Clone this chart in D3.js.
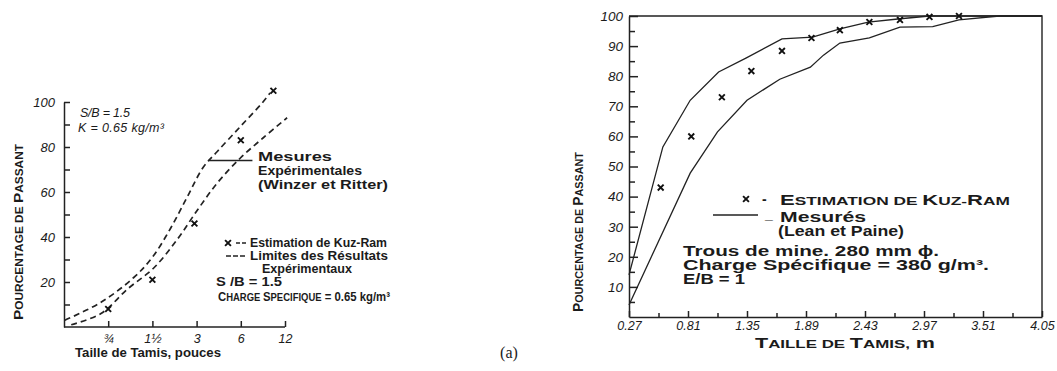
<!DOCTYPE html>
<html><head><meta charset="utf-8">
<script src="https://cdn.jsdelivr.net/npm/d3@7"></script>
<style>
html,body{margin:0;padding:0;background:#fff;}
svg{display:block;}
text{font-family:"Liberation Sans",Arial,sans-serif;fill:#1b1b1b;}
.tick text{font-style:italic;}
.axis path,.axis line{stroke:#222;stroke-width:1.5;}
</style></head><body>
<svg id="chart" width="1057" height="371"></svg>
<script>
// ---- Panel (a): sieve sizes in inches (log scale), percent passing
const sievesA = [0.75, 1.5, 3, 6, 12];
const sieveLabelsA = ["¾", "1½", "3", "6", "12"];
const yLabelsA = [20, 40, 60, 80, 100];
const upperLimitA = [[0.38,3],[0.67,11],[1.12,22],[1.5,31],[2.0,44],[2.6,58],[3.33,71],[4.15,78],[5.94,89],[8.5,100],[9.5,104]];
const lowerLimitA = [[0.42,1],[0.67,6],[1.02,17],[1.52,26],[2.22,39],[3.04,52],[4.15,64],[5.94,75],[8.5,84],[12.4,93]];
const kuzRamA = [[0.75,8],[1.5,21],[2.9,46],[6,83],[10,105]];

// ---- Panel (b): sieve sizes in metres, percent passing
const sievesB = [0.27, 0.81, 1.35, 1.89, 2.43, 2.97, 3.51, 4.05];
const sieveLabelsB = ["0.27", "0.81", "1.35", "1.89", "2.43", "2.97", "3.51", "4.05"];
const yLabelsB = [10, 20, 30, 40, 50, 60, 70, 80, 90, 100];
const upperB = [[0.27,14],[0.58,56.5],[0.83,72],[1.09,81.4],[1.34,86],[1.67,92.4],[1.95,93],[2.20,95.7],[2.46,98],[2.73,99],[3.02,100],[4.05,100]];
const lowerB = [[0.27,4],[0.83,47.8],[1.08,61.5],[1.35,72],[1.65,79],[1.93,83],[2.05,87],[2.20,91],[2.47,92.7],[2.75,96.3],[3.05,96.5],[3.29,98.7],[3.66,100],[4.05,100]];
const kuzRamB = [[0.56,43],[0.84,60],[1.12,73],[1.39,81.7],[1.67,88.4],[1.94,92.7],[2.20,95.3],[2.47,98],[2.75,98.7],[3.02,99.7],[3.29,100]];

const svg = d3.select("#chart");
const ink = "#222";

// Small capitals: capitals at full size, lower-case letters as reduced capitals
function smallCaps(t, str, big, small) {
  const runs = [];
  for (const ch of str) {
    const isCap = /[A-ZÀ-Ý]/.test(ch);
    const size = isCap ? big : small;
    const c = ch.toUpperCase();
    if (runs.length && runs[runs.length - 1].size === size) runs[runs.length - 1].s += c;
    else runs.push({ s: c, size });
  }
  runs.forEach(r => t.append("tspan").style("font-size", r.size + "px").text(r.s));
}

// Wide bold lettering: glyphs are stretched to the given length
function label(g, x, y, str, opts = {}) {
  const size = opts.size || 13;
  const t = g.append("text").attr("x", x).attr("y", y)
    .style("font-size", size + "px")
    .style("font-weight", opts.weight || "bold")
    .style("font-style", opts.italic ? "italic" : "normal")
    .attr("text-anchor", opts.anchor || "start");
  if (opts.len) t.attr("textLength", opts.len).attr("lengthAdjust", opts.spacing ? "spacing" : "spacingAndGlyphs");
  if (opts.rotate) t.attr("transform", `rotate(${opts.rotate},${x},${y})`);
  const parts = Array.isArray(str) ? str : [{ t: str, caps: opts.caps }];
  parts.forEach(p => {
    if (p.caps) smallCaps(t, p.t, size, Math.round(size * 0.8));
    else t.append("tspan").text(p.t);
  });
  return t;
}

function crosses(g, data, x, y) {
  g.selectAll(null).data(data).enter().append("path")
    .attr("d", d3.symbol(d3.symbolX, 24))
    .attr("transform", d => `translate(${x(d[0])},${y(d[1])})`)
    .attr("fill", "none").attr("stroke", "#111").attr("stroke-width", 1.9);
}

// ================= Panel (a) =================
{
  const g = svg.append("g");
  const x = d3.scaleLog().domain([0.375, 12]).range([64, 285]);
  const y = d3.scaleLinear().domain([0, 100]).range([327, 102]);

  const ya = g.append("g").attr("class", "axis").attr("transform", `translate(${x.range()[0]},0)`)
    .call(d3.axisLeft(y).tickValues(d3.range(10, 101, 10)).tickSizeInner(-6).tickSizeOuter(0).tickPadding(9)
      .tickFormat(d => yLabelsA.includes(d) ? d : ""));
  ya.selectAll(".tick text").style("font-size", "13px");

  const xa = g.append("g").attr("class", "axis").attr("transform", `translate(0,${y(0)})`)
    .call(d3.axisBottom(x).tickValues(sievesA).tickSizeInner(-6).tickSizeOuter(0).tickPadding(5)
      .tickFormat((d, i) => sieveLabelsA[i]));
  xa.select(".domain").attr("d", `M${x.range()[0]},0H${x.range()[1]}`);
  xa.selectAll(".tick text").style("font-size", "12.5px").attr("dy", "0.9em");

  const line = d3.line().x(d => x(d[0])).y(d => y(d[1])).curve(d3.curveCatmullRom);
  [upperLimitA, lowerLimitA].forEach(s =>
    g.append("path").attr("d", line(s)).attr("fill", "none").attr("stroke", ink)
      .attr("stroke-width", 1.7).attr("stroke-dasharray", "6,4"));
  crosses(g, kuzRamA, x, y);

  // leader to the measured-results label
  g.append("line").attr("x1", x(3.6)).attr("x2", x(7.2)).attr("y1", y(74)).attr("y2", y(74))
    .attr("stroke", ink).attr("stroke-width", 1.3);

  label(g, 80, 117, "S/B = 1.5", { italic: true, weight: "normal", size: 12.5, len: 50, spacing: true });
  label(g, 78, 132, "K = 0.65 kg/m³", { italic: true, weight: "normal", size: 12.5, len: 86, spacing: true });

  label(g, 258, 161, "Mesures", { size: 13, len: 74 });
  label(g, 258, 175, "Expérimentales", { size: 13, len: 104 });
  label(g, 258, 189, "(Winzer et Ritter)", { size: 13, len: 130 });

  // legend
  crosses(g, [[0, 0]], () => 228, () => 243);
  g.append("line").attr("x1", 236).attr("x2", 246).attr("y1", 243).attr("y2", 243)
    .attr("stroke", ink).attr("stroke-width", 1.5).attr("stroke-dasharray", "4,2");
  label(g, 250, 247, "Estimation de Kuz-Ram", { size: 12, len: 137 });
  g.append("line").attr("x1", 226).attr("x2", 246).attr("y1", 256).attr("y2", 256)
    .attr("stroke", ink).attr("stroke-width", 1.5).attr("stroke-dasharray", "5,2");
  label(g, 250, 260, "Limites des Résultats", { size: 12, len: 138 });
  label(g, 262, 273, "Expérimentaux", { size: 12, len: 90 });
  label(g, 216, 286, "S /B = 1.5", { size: 12, len: 66 });
  label(g, 218, 301, [{ t: "Charge Specifique", caps: true }, { t: " = 0.65 kg/m³" }], { size: 12, len: 172 });

  label(g, 75, 357, "Taille de Tamis, pouces", { size: 13, len: 146 });
  label(g, 23, 232, "Pourcentage de Passant", { caps: true, anchor: "middle", rotate: -90, size: 13, len: 176 });
  g.append("text").attr("x", 509).attr("y", 358).attr("text-anchor", "middle")
    .style("font-family", "'Liberation Serif',serif").style("font-size", "16px").text("(a)");
}

// ================= Panel (b) =================
{
  const g = svg.append("g");
  const x = d3.scaleLinear().domain([0.27, 4.05]).range([629, 1042]);
  const y = d3.scaleLinear().domain([0, 100]).range([317, 16]);

  const ya = g.append("g").attr("class", "axis").attr("transform", `translate(${x.range()[0]},0)`)
    .call(d3.axisLeft(y).tickValues(yLabelsB).tickSizeInner(-9).tickSizeOuter(0).tickPadding(6));
  ya.selectAll(".tick text").style("font-size", "13.5px");
  g.append("g").attr("class", "axis").attr("transform", `translate(${x.range()[0]},0)`)
    .call(d3.axisLeft(y).tickValues(d3.range(5, 100, 10)).tickSizeInner(-6).tickSizeOuter(0).tickFormat(""))
    .select(".domain").remove();

  const xa = g.append("g").attr("class", "axis").attr("transform", `translate(0,${y(0)})`)
    .call(d3.axisBottom(x).tickValues(sievesB).tickSizeInner(-6).tickSizeOuter(0).tickPadding(4)
      .tickFormat((d, i) => sieveLabelsB[i]));
  xa.selectAll(".tick text").style("font-size", "12.5px").attr("dy", "0.75em");
  g.append("g").attr("class", "axis").attr("transform", `translate(0,${y(0)})`)
    .call(d3.axisBottom(x).tickValues(d3.range(0, 7).map(i => sievesB[i] + 0.27)).tickSizeInner(-4).tickSizeOuter(0).tickFormat(""))
    .select(".domain").remove();

  // frame: top at 100 %, right at the largest sieve
  g.append("path").attr("d", `M${x(0.27)},${y(100)}H${x(4.05)}V${y(0)}`)
    .attr("fill", "none").attr("stroke", ink).attr("stroke-width", 1.4);

  const line = d3.line().x(d => x(d[0])).y(d => y(d[1]));
  [upperB, lowerB].forEach(s =>
    g.append("path").attr("d", line(s)).attr("fill", "none").attr("stroke", ink).attr("stroke-width", 1.3));
  crosses(g, kuzRamB, x, y);

  // legend and notes
  crosses(g, [[0, 0]], () => 746, () => 199);
  label(g, 762, 204, "-", { size: 14 });
  label(g, 780, 205, "Estimation de Kuz-Ram", { caps: true, size: 14, len: 230 });
  g.append("line").attr("x1", 713).attr("x2", 758).attr("y1", 215).attr("y2", 215).attr("stroke", ink).attr("stroke-width", 1.3);
  label(g, 765, 219, "_", { size: 14 });
  label(g, 780, 222, "Mesurés", { size: 14, len: 86 });
  label(g, 778, 236, "(Lean et Paine)", { size: 14, len: 126 });
  label(g, 683, 256, "Trous de mine. 280 mm ϕ.", { size: 14, len: 256 });
  label(g, 683, 270, "Charge Spécifique = 380 g/m³.", { size: 14, len: 306 });
  label(g, 683, 284, "E/B = 1", { size: 14, len: 62 });

  label(g, 755, 348, [{ t: "Taille de Tamis,", caps: true }, { t: " m" }], { size: 14, len: 180 });
  label(g, 583, 232, "Pourcentage de Passant", { caps: true, anchor: "middle", rotate: -90, size: 14, len: 160 });
}
</script>
</body></html>
